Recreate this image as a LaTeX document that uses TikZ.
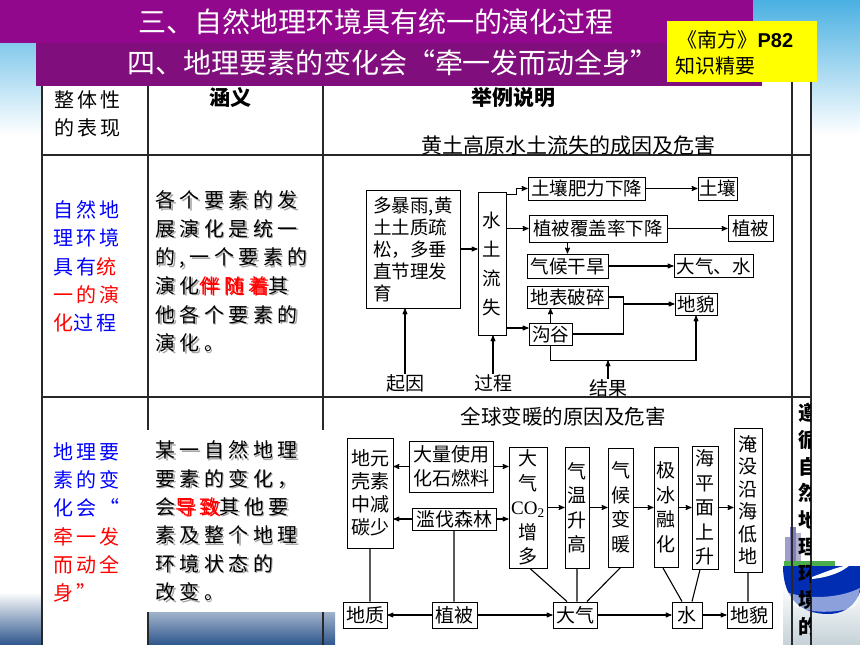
\documentclass[tikz,border=0pt]{standalone}
\usepackage{fontspec}
\setmainfont{Noto Sans CJK SC}
\newfontfamily\kuan[LetterSpace=15]{Noto Sans CJK SC}
\newfontfamily\yinying[LetterSpace=22]{Noto Sans CJK SC}
\newfontfamily\xixian{Liberation Serif}
\newfontfamily\heiti{Liberation Sans}
\usepackage{tikz}
\usetikzlibrary{arrows,shapes,calc}
\definecolor{zise}{RGB}{146,8,140}
\definecolor{zisea}{RGB}{128,14,124}
\definecolor{tianlan}{RGB}{74,176,226}
\definecolor{hailan}{RGB}{46,86,140}
\definecolor{hongse}{RGB}{255,0,0}
\definecolor{lanse}{RGB}{0,0,255}
\definecolor{huangse}{RGB}{255,255,0}
\definecolor{xian}{RGB}{40,40,40}
\newcommand\hong[1]{\textcolor{hongse}{#1}}
\newcommand\huise[1]{#1}
\newcommand\hanyiA{各个要素的发\\展演化是统一\\的,一个要素的\\演化\hong{伴随着}其\\他各个要素的\\演化。}
\newcommand\hanyiB{某一自然地理\\要素的变化，\\会\hong{导致}其他要\\素及整个地理\\环境状态的\\改变。}

\begin{document}
\begin{tikzpicture}[x=1pt,y=-1pt,->,>=stealth',line width=1.1pt,node distance=40pt]
 \tikzstyle{kuang}=[draw,line width=1pt,inner sep=0pt,font=\fontsize{18.5}{22}\selectfont]
 \tikzstyle{shu}=[kuang,align=center,font=\fontsize{19}{24.5}\selectfont]
 \tikzstyle{di}=[kuang,minimum height=26pt,font=\fontsize{19}{22}\selectfont]
 \tikzstyle{biao}=[inner sep=0pt,font=\fontsize{19}{22}\selectfont]
 \tikzstyle{gexian}=[-,draw=xian,line width=1.2pt]

 \useasboundingbox (0,0) rectangle (860,645);
 \shade[top color=tianlan,bottom color=white] (0,0) rectangle (860,135);
 \fill[white] (42,80) rectangle (811,645);
 \shade[top color=white,bottom color=hailan] (0,592) rectangle (42,645);
 \shade[top color=hailan!45,bottom color=hailan] (148,612) rectangle (335,645);

 \begin{scope}
  \clip (783,520) rectangle (860,645);
  \shade[top color=white,bottom color=tianlan!30!gray!40] (783,585) rectangle (860,645);
  \fill[blue!25!gray!60] (785,537) rectangle (790,566);
  \fill[blue!35!gray!75] (790,527) rectangle (796,566);
  \fill[blue!20!gray!50] (796,533) rectangle (801,566);
  \fill[green!55!black!70] (784,561) rectangle (835,568);
  \fill[blue!75!cyan!70!black] (783,566) .. controls (783,598) and (800,614) .. (828,614) .. controls (850,614) and (862,598) .. (862,578) -- (862,566) -- cycle;
  \fill[white,opacity=0.55] (786,592) .. controls (810,600) and (840,598) .. (860,588) -- (856,606) .. controls (840,614) and (805,614) .. (792,604) -- cycle;
  \fill[white] (812,577) .. controls (828,571) and (840,566) .. (850,565) .. controls (842,572) and (830,577) .. (812,579) -- cycle;
 \end{scope}

 \draw[gexian,line width=2.4pt] (42,80) -- (42,645);
 \draw[gexian] (148,80) -- (148,645);
 \draw[gexian] (323,80) -- (323,645);
 \draw[gexian] (792,80) -- (792,645);
 \draw[gexian,line width=2.4pt] (811,80) -- (811,645);
 \draw[gexian] (42,155) -- (811,155);
 \draw[gexian] (42,397) -- (811,397);
 \fill[white] (146,430) rectangle (335,612);

 \fill[zise] (0,0) rectangle (753,43);
 \fill[zisea] (36,43) rectangle (762,86);
 \node[text=white,font=\fontsize{28}{28}\selectfont] (bt1) at (376,22) {三、自然地理环境具有统一的演化过程};
 \node[text=white,font=\fontsize{28}{28}\selectfont] (bt2) at (393,63) {四、地理要素的变化会“牵一发而动全身”};
 \node[fill=huangse,minimum width=150pt,minimum height=61pt,inner sep=0pt] (nf) at (742,51.5) {};
 \node[anchor=west,inner sep=0pt,font=\fontsize{20}{20}\selectfont] (nfa) at (677,40) {《南方》{\heiti\bfseries P82}};
 \node[anchor=west,inner sep=0pt,font=\fontsize{20}{20}\selectfont] (nfb) at (675,66) {知识精要};

 \node[anchor=west,align=left,inner sep=0pt,font=\kuan\fontsize{20}{28}\selectfont] (bxs) at (54,114) {整体性\\的表现};
 \node[font=\bfseries\fontsize{21}{21}\selectfont] (hy) at (230,98) {涵义};
 \node[font=\bfseries\fontsize{21}{21}\selectfont] (jl) at (513,98) {举例说明};

 \node[anchor=west,align=left,inner sep=0pt,text=lanse,font=\kuan\fontsize{20}{28.3}\selectfont] (bxa) at (53,266.5) {自然地\\理环境\\具有\hong{统}\\\hong{一的演}\\\hong{化}过程};
 \node[anchor=west,align=left,inner sep=0pt,text=lanse,font=\kuan\fontsize{20}{28.2}\selectfont] (bxb) at (53,522.5) {地理要\\素的变\\化会“\\\hong{牵一发}\\\hong{而动全}\\\hong{身”}};
 \node[anchor=west,align=left,inner sep=0pt,text=black!35,font=\yinying\fontsize{20}{28.6}\selectfont] (hyay) at (156.5,273) {\let\hong\huise\hanyiA};
 \node[anchor=west,align=left,inner sep=0pt,font=\yinying\fontsize{20}{28.6}\selectfont] (hya) at (155,271.5) {\hanyiA};
 \node[anchor=west,align=left,inner sep=0pt,text=black!35,font=\yinying\fontsize{20}{28.4}\selectfont] (hyby) at (156.5,522.5) {\let\hong\huise\hanyiB};
 \node[anchor=west,align=left,inner sep=0pt,font=\yinying\fontsize{20}{28.4}\selectfont] (hyb) at (155,521) {\hanyiB};

 \begin{scope}
  \clip (793,398) rectangle (810,645);
  \node[anchor=north,align=center,inner sep=0pt,font=\bfseries\fontsize{20}{26.7}\selectfont] (zx) at (808,403) {遵\\循\\自\\然\\地\\理\\环\\境\\的};
 \end{scope}

 \node[font=\fontsize{21}{21}\selectfont] (tta) at (568,146) {黄土高原水土流失的成因及危害};
 \node[kuang,minimum width=94pt,minimum height=118pt,align=left] (yin) at (413,249) {多暴雨,黄\\土土质疏\\松，多垂\\直节理发\\育};
 \node[shu,minimum width=28pt,minimum height=143pt,font=\fontsize{18.5}{29}\selectfont] (liu) at (492,263.5) {水\\土\\流\\失};
 \node[kuang,minimum width=117pt,minimum height=23pt] (fl) at (586.5,188.5) {土壤肥力下降};
 \node[kuang,minimum width=39pt,minimum height=23pt,node distance=131pt] (tr) [right of=fl] {土壤};
 \node[kuang,minimum width=138pt,minimum height=27pt] (fg) at (598,228.5) {植被覆盖率下降};
 \node[kuang,minimum width=45pt,minimum height=26pt,node distance=152.5pt] (zb) [right of=fg] {植被};
 \node[kuang,minimum width=81pt,minimum height=24pt] (gh) at (567.5,266) {气候干旱};
 \node[kuang,minimum width=79pt,minimum height=23pt,node distance=146pt] (dq) [right of=gh] {大气、水};
 \node[kuang,minimum width=81pt,minimum height=22pt] (ps) at (567.5,297) {地表破碎};
 \node[kuang,minimum width=43pt,minimum height=22pt] (gg) at (550.5,334) {沟谷};
 \node[kuang,minimum width=42pt,minimum height=22pt] (dm) at (696,304) {地貌};
 \node[biao] (qy) at (405,383) {起因};
 \node[biao] (gc) at (493,383) {过程};
 \node[biao] (jg) at (608,388) {结果};

 \coordinate (a1) at ($(liu.north east)+(0,3)$);
 \draw (a1) -- ++(10,0) |- (fl);
 \path[->]
   (yin.east) edge (yin.east -| liu.west)
   (liu.east |- fg) edge (fg)
   (fl) edge (tr)
   (fg) edge (zb)
   (gh.north |- fg.south) edge (gh.north)
   (gh) edge (dq)
   ($(liu.east |- gg.west)+(0,-6)$) edge ($(gg.west)+(0,-6)$)
   (gg.north) edge (gg.north |- ps.south);
 \draw[-] (ps.east) -- ++(15,0) |- (gg.east);
 \coordinate (br) at ($(ps.east)+(15,7)$);
 \draw (br) -- (br -| dm.west);
 \draw (gg.south) -- ++(0,15) coordinate (gb) -| (dm.south);
 \draw (jg.north) -- (jg.north |- gb);
 \draw (qy.north) -- (qy.north |- yin.south);
 \draw (gc.north) -- (gc.north |- liu.south);

 \node[font=\fontsize{20.5}{20.5}\selectfont] (ttb) at (563,417) {全球变暖的原因及危害};
 \node[shu,minimum width=46pt,minimum height=110pt,font=\fontsize{19}{23}\selectfont] (dk) at (370,493) {地元\\壳素\\中减\\碳少};
 \node[kuang,minimum width=84pt,minimum height=51pt,align=center,font=\fontsize{19}{24}\selectfont] (hs) at (451,466.5) {大量使用\\化石燃料};
 \node[kuang,minimum width=84pt,minimum height=22pt,font=\fontsize{19}{22}\selectfont] (lf) at (454,519) {滥伐森林};
 \node[shu,minimum width=38pt,minimum height=121pt] (co) at (528,507.5) {大\\气\\{\xixian CO\textsubscript{2}}\\增\\多};
 \node[shu,minimum width=24pt,minimum height=121pt,node distance=49pt] (qw) [right of=co] {气\\温\\升\\高};
 \node[shu,minimum width=25pt,minimum height=119pt,node distance=43.5pt] (qh) [right of=qw] {气\\候\\变\\暖};
 \node[shu,minimum width=24pt,minimum height=120pt,node distance=45.5pt] (bb) [right of=qh] {极\\冰\\融\\化};
 \node[shu,minimum width=26pt,minimum height=123pt,node distance=39pt] (hp) [right of=bb] {海\\平\\面\\上\\升};
 \node[shu,minimum width=28pt,minimum height=144pt,font=\fontsize{19}{22.4}\selectfont] (ym) at (748,500) {淹\\没\\沿\\海\\低\\地};
 \node[di,minimum width=44pt] (dz) at (365,615) {地质};
 \node[di,minimum width=45pt,node distance=89.5pt] (zbb) [right of=dz] {植被};
 \node[di,minimum width=44pt,node distance=120.5pt] (dqb) [right of=zbb] {大气};
 \node[di,minimum width=30pt,node distance=112pt] (sh) [right of=dqb] {水};
 \node[di,minimum width=45pt,node distance=62.5pt] (dmb) [right of=sh] {地貌};

 \path[->]
   (hs.west) edge (hs.west -| dk.east)
   (hs.east) edge (hs.east -| co.west)
   (lf.west) edge (lf.west -| dk.east)
   (lf.east) edge (lf.east -| co.west)
   (co) edge (qw)
   (qw) edge (qh)
   (qh) edge (bb)
   (bb) edge (hp)
   (hp.east) edge (hp.east -| ym.west)
   (zbb) edge (dz)
   (zbb) edge (dqb)
   (dqb) edge (sh)
   (sh) edge (dmb);
 \draw[-] (dk.south) -- (dk.south |- dz.north)
   (lf.south) -- (lf.south |- zbb.north)
   ($(co.south)+(2,0)$) -- ($(dqb.north)+(-8,0)$)
   (qw.south) -- (qw.south |- dqb.north)
   (qh.south) -- ($(dqb.north)+(12,0)$)
   ($(bb.south)+(-3,0)$) -- ($(sh.north)+(-5,0)$)
   ($(hp.south)+(-5,0)$) -- ($(sh.north)+(5,0)$)
   (ym.south) -- (ym.south |- dmb.north);
\end{tikzpicture}
\end{document}
